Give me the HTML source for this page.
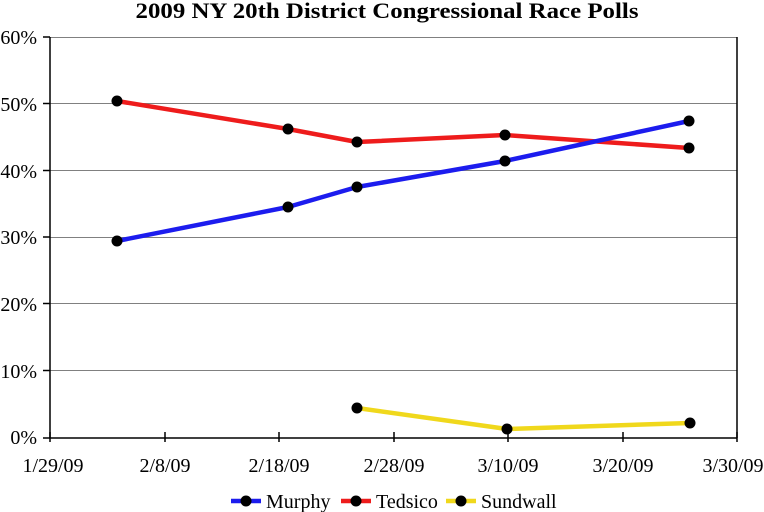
<!DOCTYPE html>
<html><head><style>body{margin:0;background:#fff}svg{display:block}text{font-family:"Liberation Serif",serif;fill:#000}</style></head>
<body>
<svg width="764" height="512" viewBox="0 0 764 512">
<text x="387" y="18" font-size="22" font-weight="bold" text-anchor="middle" textLength="503" lengthAdjust="spacingAndGlyphs">2009 NY 20th District Congressional Race Polls</text>
<g stroke="#808080" stroke-width="1">
<line x1="50" y1="37.5" x2="737" y2="37.5"/><line x1="50" y1="103.5" x2="737" y2="103.5"/><line x1="50" y1="170.5" x2="737" y2="170.5"/><line x1="50" y1="237.5" x2="737" y2="237.5"/><line x1="50" y1="303.5" x2="737" y2="303.5"/><line x1="50" y1="370.5" x2="737" y2="370.5"/>
</g>
<g stroke="#000" stroke-width="1.5">
<line x1="50" y1="37" x2="50" y2="438"/><line x1="737" y1="37" x2="737" y2="438"/><line x1="43" y1="438" x2="737" y2="438"/>
<line x1="43" y1="37" x2="50" y2="37"/><line x1="43" y1="103.5" x2="50" y2="103.5"/><line x1="43" y1="170.5" x2="50" y2="170.5"/><line x1="43" y1="237" x2="50" y2="237"/><line x1="43" y1="303.5" x2="50" y2="303.5"/><line x1="43" y1="370.5" x2="50" y2="370.5"/>
<line x1="165" y1="432" x2="165" y2="442"/><line x1="279" y1="432" x2="279" y2="442"/><line x1="394" y1="432" x2="394" y2="442"/><line x1="508" y1="432" x2="508" y2="442"/><line x1="623" y1="432" x2="623" y2="442"/><line x1="737" y1="432" x2="737" y2="442"/><line x1="50" y1="432" x2="50" y2="442"/>
</g>
<g font-size="20" text-anchor="end">
<text x="37" y="44">60%</text><text x="37" y="111">50%</text><text x="37" y="178">40%</text><text x="37" y="244">30%</text><text x="37" y="311">20%</text><text x="37" y="378">10%</text><text x="37" y="444">0%</text>
</g>
<g font-size="20" text-anchor="middle">
<text x="53" y="472">1/29/09</text><text x="165" y="472">2/8/09</text><text x="279" y="472">2/18/09</text><text x="394" y="472">2/28/09</text><text x="508" y="472">3/10/09</text><text x="623" y="472">3/20/09</text><text x="733" y="472">3/30/09</text>
</g>
<g fill="none" stroke-width="4.5" stroke-linejoin="round">
<polyline stroke="#ee1c1c" points="117,101 288,129 357,142 505,135 689,148"/>
<polyline stroke="#1c1cee" points="117,241 288,207 357,187 505,161 689,121"/>
<polyline stroke="#f0d81c" points="357,408 507,429 690,423"/>
</g>
<g fill="#000">
<circle cx="117" cy="101" r="5.5"/><circle cx="288" cy="129" r="5.5"/><circle cx="357" cy="142" r="5.5"/><circle cx="505" cy="135" r="5.5"/><circle cx="689" cy="148" r="5.5"/>
<circle cx="117" cy="241" r="5.5"/><circle cx="288" cy="207" r="5.5"/><circle cx="357" cy="187" r="5.5"/><circle cx="505" cy="161" r="5.5"/><circle cx="689" cy="121" r="5.5"/>
<circle cx="357" cy="408" r="5.5"/><circle cx="507" cy="429" r="5.5"/><circle cx="690" cy="423" r="5.5"/>
</g>
<g stroke-width="4.5">
<line x1="231" y1="501" x2="261" y2="501" stroke="#1c1cee"/><line x1="341" y1="501" x2="371" y2="501" stroke="#ee1c1c"/><line x1="446" y1="501" x2="476" y2="501" stroke="#f0d81c"/>
</g>
<g fill="#000"><circle cx="246" cy="501" r="5.5"/><circle cx="356" cy="501" r="5.5"/><circle cx="461" cy="501" r="5.5"/></g>
<g font-size="20"><text x="266" y="508">Murphy</text><text x="376" y="508">Tedsico</text><text x="481" y="508">Sundwall</text></g>
</svg>
</body></html>
